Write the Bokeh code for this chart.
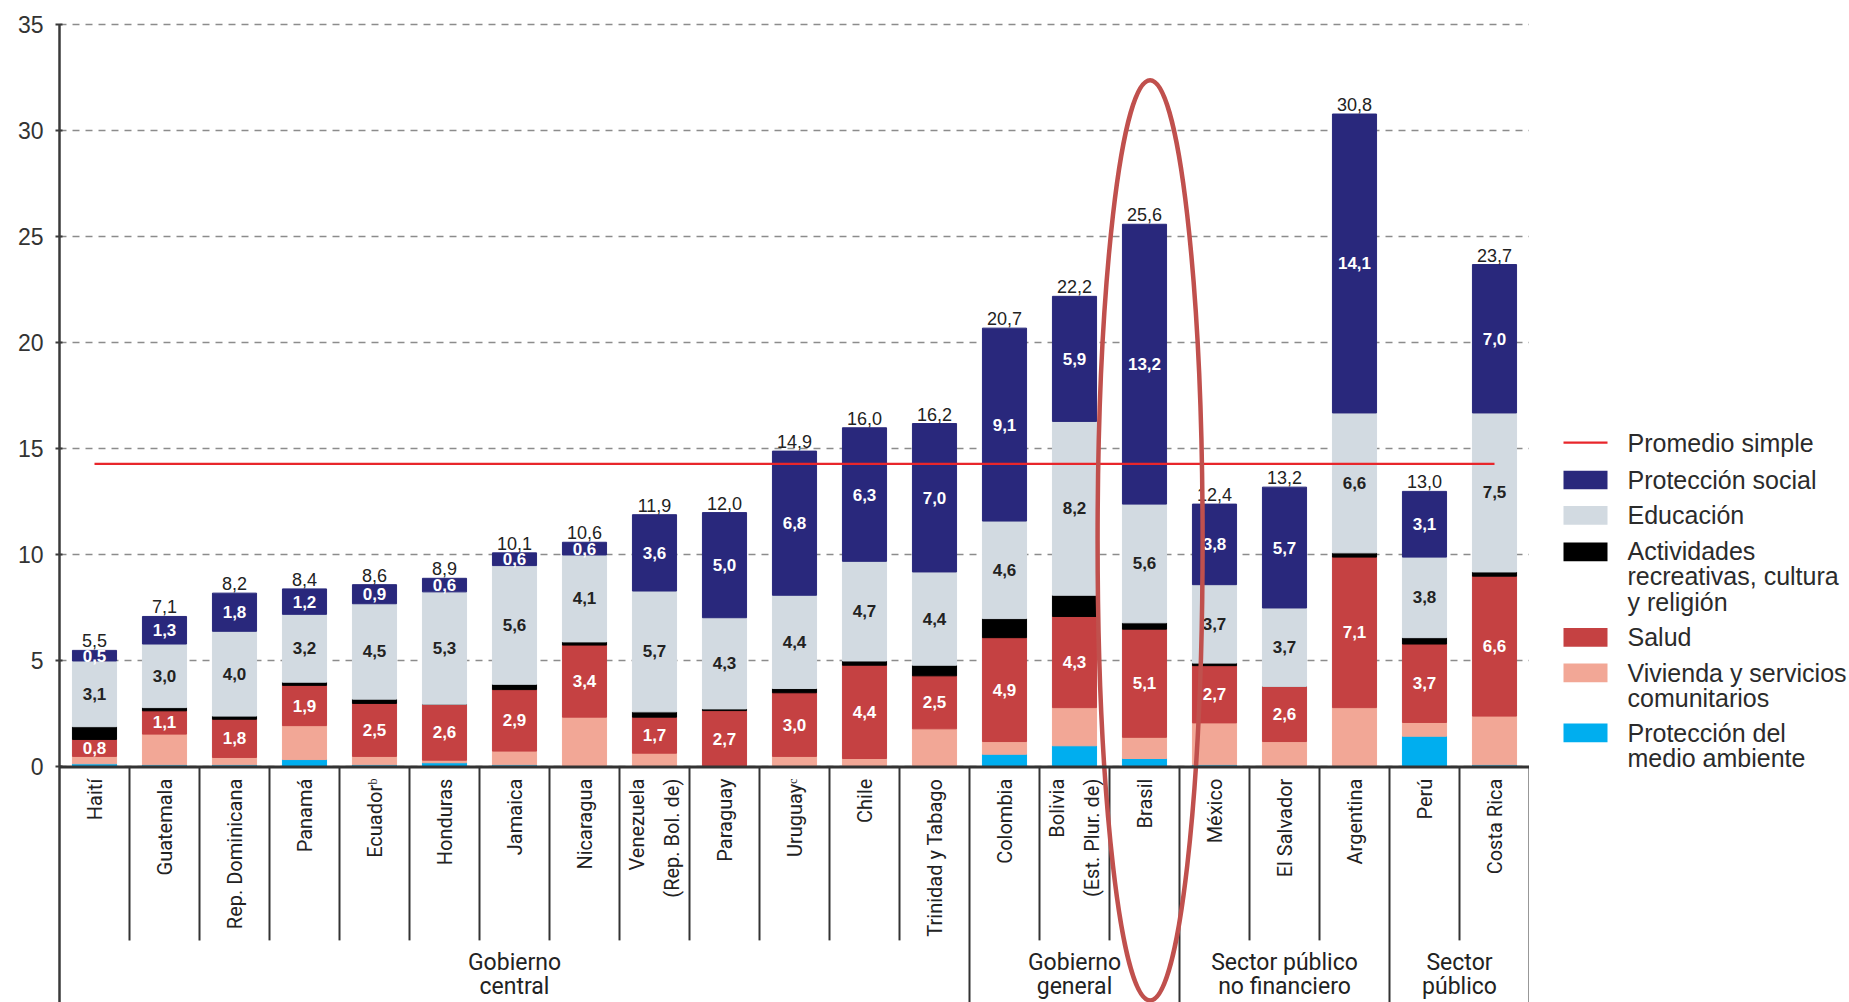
import numpy as np
from bokeh.plotting import figure
from bokeh.layouts import row
from bokeh.models import ColumnDataSource, Range1d, FixedTicker, Span
from bokeh.core.properties import value
from bokeh.embed import file_html
from bokeh.resources import INLINE

# ---------------- data ----------------
countries = ["Haití", "Guatemala", "Rep. Dominicana", "Panamá", "Ecuadorᵇ", "Honduras",
             "Jamaica", "Nicaragua", "Venezuela\n(Rep. Bol. de)", "Paraguay", "Uruguayᶜ",
             "Chile", "Trinidad y Tabago", "Colombia", "Bolivia\n(Est. Plur. de)", "Brasil",
             "México", "El Salvador", "Argentina", "Perú", "Costa Rica"]
groups = ["Gobierno\ncentral", "Gobierno\ngeneral", "Sector público\nno financiero", "Sector\npúblico"]
group_sizes = [13, 3, 3, 2]

proteccion_social = [0.5, 1.3, 1.8, 1.2, 0.9, 0.64, 0.6, 0.6, 3.6, 4.96, 6.8, 6.3, 7.0,
                     9.1, 5.9, 13.2, 3.8, 5.7, 14.1, 3.1, 7.0]
educacion = [3.1, 3.0, 4.0, 3.2, 4.5, 5.3, 5.6, 4.1, 5.7, 4.3, 4.4, 4.7, 4.4,
             4.6, 8.2, 5.6, 3.7, 3.7, 6.6, 3.8, 7.5]
actividades = [0.6, 0.15, 0.15, 0.15, 0.2, 0.0, 0.25, 0.15, 0.25, 0.08, 0.2, 0.2, 0.5,
               0.9, 1.0, 0.3, 0.12, 0.0, 0.2, 0.3, 0.2]
salud = [0.8, 1.1, 1.8, 1.9, 2.5, 2.64, 2.9, 3.4, 1.7, 2.66, 3.0, 4.4, 2.5,
         4.9, 4.3, 5.1, 2.7, 2.6, 7.1, 3.7, 6.6]
vivienda = [0.35, 1.45, 0.35, 1.6, 0.4, 0.12, 0.65, 2.35, 0.65, 0.0, 0.45, 0.35, 1.8,
            0.6, 1.8, 1.0, 1.98, 1.2, 2.75, 0.65, 2.3]
medio_ambiente = [0.15, 0.1, 0.1, 0.35, 0.1, 0.2, 0.1, 0.0, 0.0, 0.0, 0.05, 0.05, 0.0,
                  0.6, 1.0, 0.4, 0.1, 0.0, 0.05, 1.45, 0.1]
totales = [5.5, 7.1, 8.2, 8.4, 8.6, 8.9, 10.1, 10.6, 11.9, 12.0, 14.9, 16.0, 16.2,
           20.7, 22.2, 25.6, 12.4, 13.2, 30.8, 13.0, 23.7]
promedio_simple = 14.3
y_ticks = [0, 5, 10, 15, 20, 25, 30, 35]
highlight = "Brasil"

legend_labels = ["Promedio simple", "Protección social", "Educación",
                 "Actividades\nrecreativas, cultura\ny religión", "Salud",
                 "Vivienda y servicios\ncomunitarios", "Protección del\nmedio ambiente"]

# ---------------- styles ----------------
C_MA, C_VIV, C_SAL, C_ACT, C_EDU, C_PS = "#00aeef", "#f2a796", "#c54142", "#000000", "#d2dae1", "#29287c"
C_AVG = "#e8262b"
C_DARK = "#333333"
FONT = "Liberation Sans"
FONT_C = "Roboto"

def fmt(v):
    return f"{v:.1f}".replace(".", ",")

n = len(countries)
xc = [i + 0.5 for i in range(n)]
FRAME_W = 1470
FRAME_H = 986
LEFT = 59
TOP = 16
TOTAL_W = 1849
PX_PER_UNIT = 21.2
Y_MAX = 35.4
Y_MIN = Y_MAX - FRAME_H / PX_PER_UNIT

p = figure(frame_width=FRAME_W, frame_height=FRAME_H, x_range=Range1d(0, n), y_range=Range1d(Y_MIN, Y_MAX),
           x_axis_location=None, output_backend="svg", toolbar_location=None,
           min_border_left=LEFT, min_border_right=0, min_border_top=TOP, min_border_bottom=0)
p.outline_line_color = None
p.background_fill_color = "white"
p.xgrid.visible = False

ticker = FixedTicker(ticks=y_ticks)
ax = p.yaxis[0]
ax.ticker = ticker
ax.bounds = (Y_MIN, max(y_ticks))
ax.axis_line_color = "#3a3a3a"
ax.axis_line_width = 2.5
ax.major_tick_line_color = "#3a3a3a"
ax.major_tick_line_width = 2
ax.major_tick_in = 3
ax.major_tick_out = 4
ax.minor_tick_line_color = None
ax.major_label_standoff = 12
ax.major_label_text_font = FONT
ax.major_label_text_font_size = "23px"
ax.major_label_text_color = C_DARK

p.ygrid.ticker = ticker
p.ygrid.grid_line_color = "#8c8c8c"
p.ygrid.grid_line_dash = "7 6"
p.ygrid.grid_line_width = 1.6

src = ColumnDataSource(dict(x=xc, medio_ambiente=medio_ambiente, vivienda=vivienda, salud=salud,
                            actividades=actividades, educacion=educacion,
                            proteccion_social=proteccion_social))
stack = ["medio_ambiente", "vivienda", "salud", "actividades", "educacion", "proteccion_social"]
colors = [C_MA, C_VIV, C_SAL, C_ACT, C_EDU, C_PS]
p.vbar_stack(stack, x="x", width=0.63, color=colors, source=src)

# segment labels
arr = np.array([medio_ambiente, vivienda, salud, actividades, educacion, proteccion_social])
cum = np.cumsum(arr, axis=0)
bottoms = cum - arr
for idx, vals, col in [(2, salud, "white"), (4, educacion, "#222222"), (5, proteccion_social, "white")]:
    ys = list(bottoms[idx] + arr[idx] / 2.0)
    p.text(x=xc, y=ys, text=[fmt(v) for v in vals], text_align="center", text_baseline="middle",
           text_font=value(FONT), text_font_style="bold", text_font_size="17px", text_color=col)

# totals
p.text(x=xc, y=totales, text=[fmt(v) for v in totales], text_align="center", text_baseline="bottom",
       y_offset=-3, text_font=value(FONT), text_font_size="18px", text_color="#222222")

# average line
p.line(x=[xc[0], xc[-1]], y=[promedio_simple] * 2, line_color=C_AVG, line_width=2.2)

# x axis line
p.add_layout(Span(location=0, dimension="width", line_color=C_DARK, line_width=3))

# dividers under the axis
group_ends = list(np.cumsum(group_sizes))
bounds_x = list(range(1, n + 1))
div_bottom = [Y_MIN - 1 if b in group_ends else -8.18 for b in bounds_x]
p.segment(x0=bounds_x, y0=[0] * n, x1=bounds_x, y1=div_bottom, line_color=C_DARK, line_width=2)

# country labels (vertical)
p.text(x=xc, y=[-0.55] * n, text=countries, angle=np.pi / 2, text_align="right", text_baseline="middle",
       text_font=value(FONT_C), text_font_size="20px", text_color="#222222", text_line_height=1.45)

# group labels
starts = [0] + group_ends[:-1]
gx = [(s + e) / 2 for s, e in zip(starts, group_ends)]
p.text(x=gx, y=[-9.79] * len(groups), text=groups, text_align="center", text_baseline="middle",
       text_font=value(FONT_C), text_font_size="23px", text_color="#222222", text_line_height=0.9)

# highlight ellipse
hx = countries.index(highlight) + 0.58
p.ellipse(x=[hx], y=[10.69], width=[1.5], height=[43.4], fill_color=None,
          line_color="#c0504d", line_width=4.5)

# ---------------- legend panel (screen-pixel coordinates) ----------------
LEG_W = TOTAL_W - (LEFT + FRAME_W)
LEG_H = TOP + FRAME_H
leg = figure(width=LEG_W, height=LEG_H, x_range=Range1d(0, LEG_W), y_range=Range1d(LEG_H, 0),
             x_axis_location=None, y_axis_location=None, output_backend="svg", toolbar_location=None,
             min_border=0)
leg.outline_line_color = None
leg.xgrid.visible = False
leg.ygrid.visible = False

LEG_X0 = 34          # swatch left, px from plot edge
LEG_SW_W = 44
LEG_SW_H = 19
LEG_TXT_X = LEG_X0 + LEG_SW_W + 20
LEG_LINE_GAP = 25.0
leg_rows = [433, 471, 507, 544, 631, 667, 728]   # first-line centres
sw_colors = [C_PS, C_EDU, C_ACT, C_SAL, C_VIV, C_MA]

leg.line(x=[LEG_X0, LEG_X0 + LEG_SW_W], y=[leg_rows[0], leg_rows[0]], line_color=C_AVG, line_width=2.2)
sw_rows = leg_rows[1:]
leg.quad(left=[LEG_X0] * len(sw_rows), right=[LEG_X0 + LEG_SW_W] * len(sw_rows),
         top=[r - LEG_SW_H / 2 for r in sw_rows], bottom=[r + LEG_SW_H / 2 for r in sw_rows],
         fill_color=sw_colors, line_color=None)
txt_y = [r + lbl.count("\n") * LEG_LINE_GAP / 2 for r, lbl in zip(leg_rows, legend_labels)]
leg.text(x=[LEG_TXT_X] * len(legend_labels), y=txt_y, text=legend_labels, text_align="left",
         text_baseline="middle", text_font=value(FONT), text_font_size="25px", text_color="#2b2b2b",
         text_line_height=0.9)

layout = row(p, leg, spacing=0)
open("out.html", "w").write(file_html(layout, INLINE))
